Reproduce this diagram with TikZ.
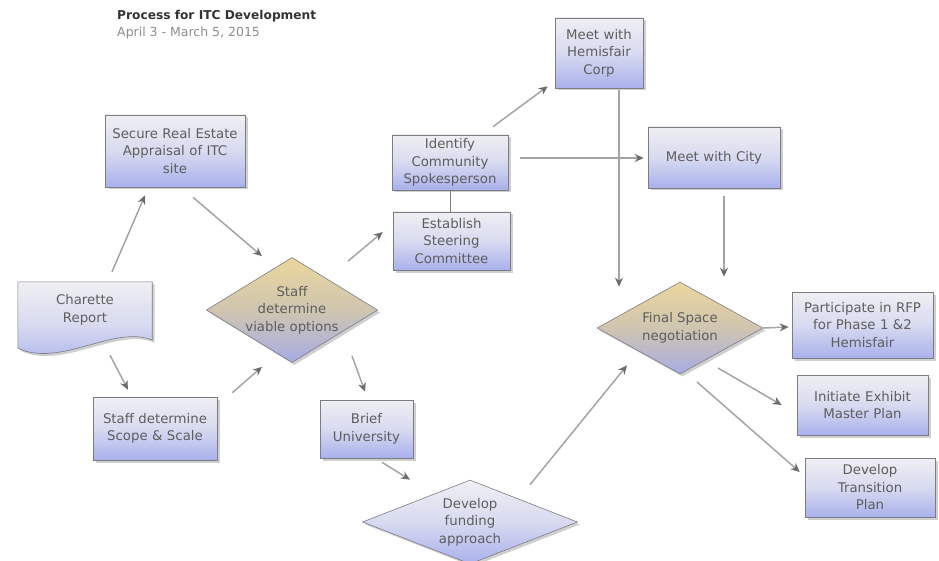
\documentclass[tikz,border=0pt]{standalone}
\usepackage{fontspec}
\setmainfont{DejaVu Sans}
\usetikzlibrary{arrows.meta,shapes.geometric,shadows,calc,backgrounds}
\definecolor{txt}{HTML}{5E5E5E}
\definecolor{boxtop}{HTML}{EFEFF3}
\definecolor{boxmid}{HTML}{D8DAF0}
\definecolor{boxbot}{HTML}{A9B1EC}
\definecolor{yeltop}{HTML}{EAD69C}
\definecolor{yelmid}{HTML}{CFC5B0}
\definecolor{yelbot}{HTML}{A7ACE4}
\definecolor{edge}{HTML}{7C7C84}
\definecolor{arrline}{HTML}{A4A4A4}
\definecolor{arrhead}{HTML}{6C6C6C}
\tikzset{
  shd/.style={drop shadow={opacity=0.38,shadow xshift=2.5pt,shadow yshift=-2.5pt}},
  txtstyle/.style={text=txt,font=\fontsize{13.3}{17.5}\selectfont,align=center},
  box/.style={rectangle,draw=edge,line width=0.6pt,top color=boxtop,bottom color=boxbot,middle color=boxmid,shd,txtstyle,inner sep=1pt},
  bluedia/.style={diamond,draw=edge,line width=0.6pt,top color=boxtop,bottom color=boxbot,middle color=boxmid,shd,txtstyle,inner sep=0pt},
  yeldia/.style={diamond,draw=edge,line width=0.6pt,top color=yeltop,bottom color=yelbot,middle color=yelmid,shd,txtstyle,inner sep=0pt},
  docshape/.style={draw=edge,line width=0.6pt,top color=boxtop,bottom color=boxbot,middle color=boxmid,shd},
  arr/.style={draw=arrline,line width=1.5pt,-{Stealth[length=9pt,width=8pt,color=arrhead]}},
  link/.style={draw=edge,line width=0.8pt}
}
\begin{document}
\begin{tikzpicture}[x=1pt,y=-1pt]
\useasboundingbox (0,0) rectangle (939,561);

% title
\node[anchor=base west,inner sep=0pt,text=black!80,font=\bfseries\fontsize{12.2}{14}\selectfont] (title) at (117,20) {Process for ITC Development};
\node[anchor=base west,inner sep=0pt,text=black!45,font=\fontsize{12.5}{14}\selectfont] (subtitle) at (117,36.5) {April 3 - March 5, 2015};

% boxes
\node[box,minimum width=140pt,minimum height=72pt,text width=136pt] (secure) at (175,151) {Secure Real Estate\\Appraisal of ITC\\site};
\node[box,minimum width=124pt,minimum height=63pt,text width=120pt] (scope) at (155,428.5) {Staff determine\\Scope \& Scale};
\node[box,minimum width=93pt,minimum height=58pt,text width=90pt] (brief) at (366.5,429) {Brief\\University};
\node[box,minimum width=116pt,minimum height=55pt,text width=112pt] (ident) at (450,162.5) {Identify\\Community\\Spokesperson};
\node[box,minimum width=117pt,minimum height=58pt,text width=112pt] (estab) at (451.5,241) {Establish\\Steering\\Committee};
\node[box,minimum width=88pt,minimum height=70pt,text width=85pt] (hemis) at (599,53) {Meet with\\Hemisfair\\Corp};
\node[box,minimum width=132pt,minimum height=61pt,text width=128pt] (city) at (714,157.5) {Meet with City};
\node[box,minimum width=141pt,minimum height=66pt,text width=138pt] (partic) at (862.5,325) {Participate in RFP\\for Phase 1 \&2\\Hemisfair};
\node[box,minimum width=131pt,minimum height=60pt,text width=128pt] (init) at (862.5,405) {Initiate Exhibit\\Master Plan};
\node[box,minimum width=130pt,minimum height=59pt,text width=126pt] (trans) at (870,487.5) {Develop\\Transition\\Plan};

% diamonds
\node[yeldia,minimum width=170pt,minimum height=104pt,aspect=1.63] (viable) at (292,310) {Staff\\determine\\viable options};
\node[yeldia,minimum width=166pt,minimum height=92pt,aspect=1.8] (final) at (680,328) {Final Space\\negotiation};
\node[bluedia,minimum width=215pt,minimum height=84pt,aspect=2.56] (fund) at (470,522) {Develop\\funding\\approach};

% document shape
\node[txtstyle,minimum width=134pt,minimum height=56pt,inner sep=0pt] (char) at (85,310) {Charette\\Report};
\begin{pgfonlayer}{background}
\path[docshape] (char.north west) -- (char.north east) -- ($(char.south east)+(0,2)$)
  .. controls ($(char.south east)+(-37,-14)$) and ($(char.south west)+(42,30)$) .. ($(char.south west)+(0,10)$) -- cycle;
\end{pgfonlayer}

% connectors
\draw[arr] ($(char.north)+(27,-10)$) -- ($(secure.south)+(-30,8)$);
\draw[arr] ($(char.south)+(25,17)$) -- ($(scope.north)+(-27,-7)$);
\draw[arr] ($(secure.south)+(18,10)$) -- ($(viable.north)+(-30,-1)$);
\draw[arr] ($(scope.north east)+(15,-4)$) -- ($(viable.south)+(-30,4)$);
\draw[arr] ($(viable.north)+(56,4)$) -- ($(estab.west)+(-10,-9)$);
\draw[arr] ($(viable.south)+(60,-7)$) -- ($(brief.north)+(-1.5,-8)$);
\draw[arr] ($(brief.south)+(15.5,4)$) -- ($(fund.north)+(-60,0)$);
\draw[arr] ($(fund.north)+(60,5)$) -- ($(final.south)+(-53,-9)$);
\draw[arr] ($(ident.north)+(43,-8)$) -- ($(hemis.south west)+(-7,-2)$);
\draw[arr] ($(ident.east)+(12,-4.5)$) -- ($(city.west)+(-4,0.5)$);
\draw[arr] ($(hemis.south)+(20,2)$) -- ($(final.north)+(-61,5)$);
\draw[arr] ($(city.south)+(10,8)$) -- ($(final.north)+(44,-5)$);
\draw[arr] (final.east) -- ($(partic.west)+(-3,2)$);
\draw[arr] ($(final.center)+(38,40)$) -- ($(init.west)+(-15,0)$);
\draw[arr] ($(final.center)+(17,54)$) -- ($(trans.west)+(-5,-15.5)$);
\draw[link] (ident.south) -- (ident.south |- estab.north);
\end{tikzpicture}
\end{document}
